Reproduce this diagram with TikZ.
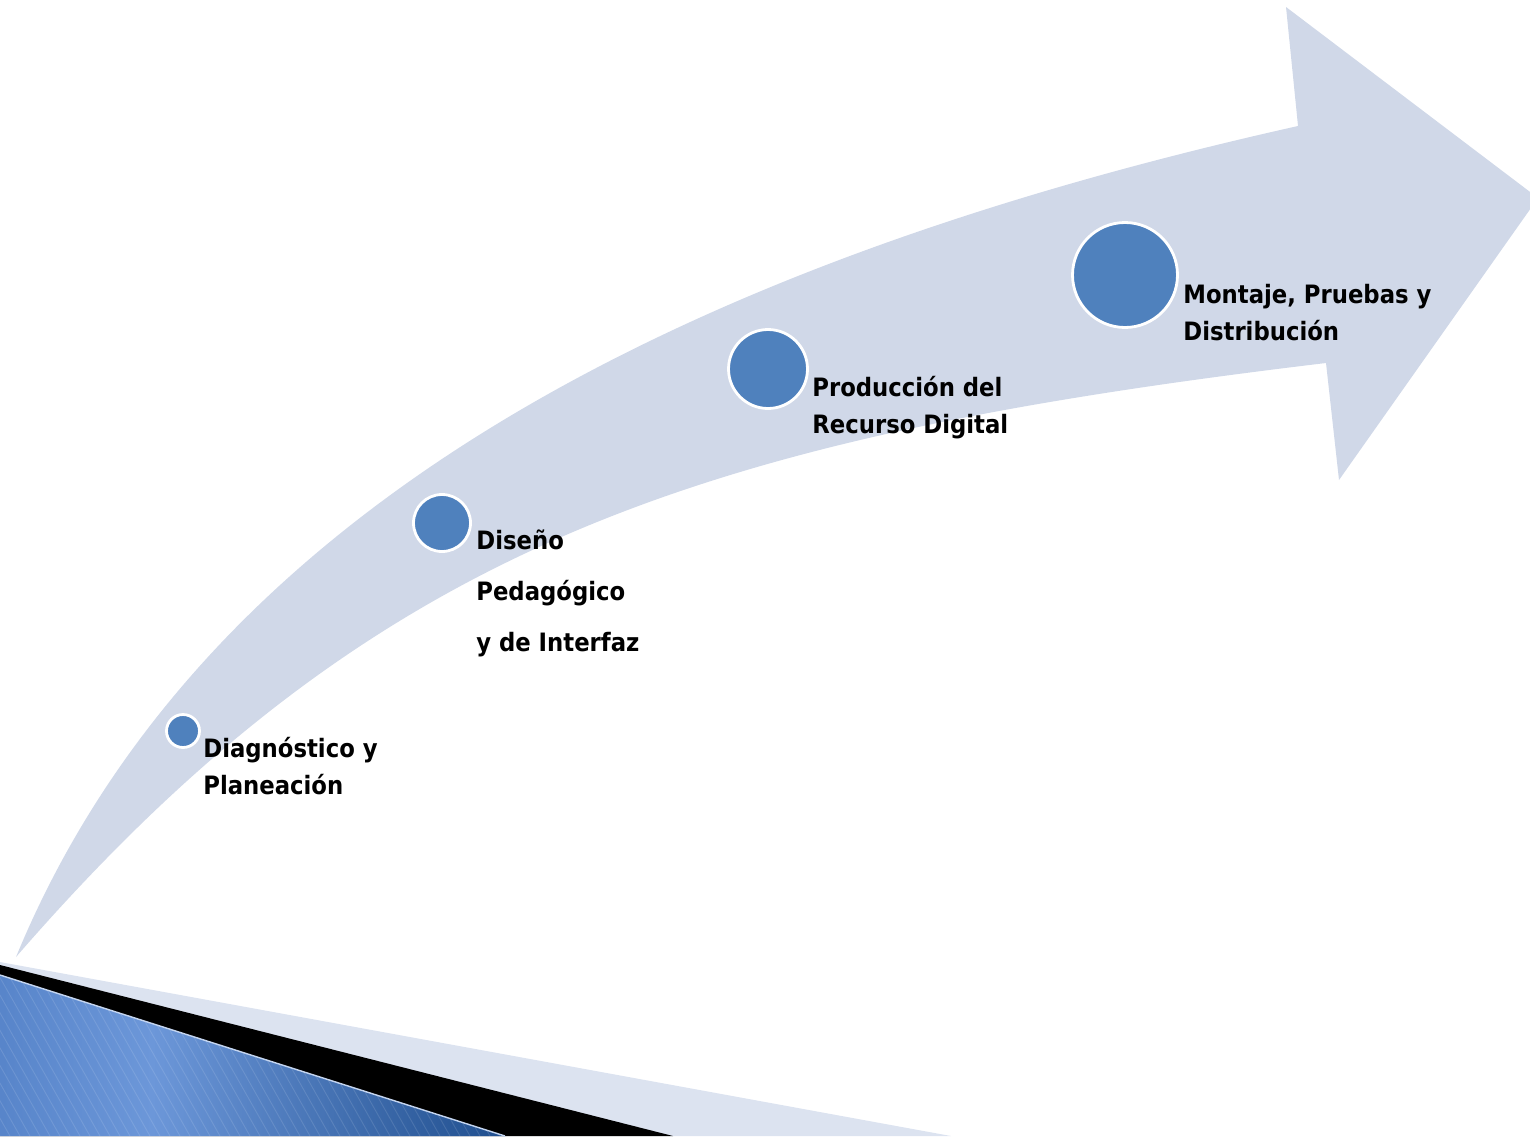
\documentclass[tikz,border=0pt]{standalone}
\usepackage{fontspec}
\newfontfamily\stagefont{DejaVu Sans Condensed Bold}
\definecolor{band}{HTML}{D0D8E8}
\definecolor{dotblue}{HTML}{4F81BD}
\definecolor{strip}{HTML}{DCE3F0}
\definecolor{blueA}{HTML}{3D6DB6}
\definecolor{blueB}{HTML}{6C97D9}
\definecolor{blueC}{HTML}{1F4E8E}
\tikzset{
  dot/.style={circle, fill=dotblue, draw=white, line width=1.6pt, inner sep=0pt},
  stage/.style={anchor=base west, align=left, inner sep=0pt,
    font=\stagefont\fontsize{14.4}{21}\selectfont},
}
\begin{document}
\begin{tikzpicture}[x=0.02cm, y=-0.02cm]
\useasboundingbox (0, 0) rectangle (1530, 1136);
\clip (0, 0) rectangle (1530, 1136);
% curved arrow
\fill[band] (16, 957) .. controls (200, 510) and (680, 264) .. (1298, 126)
      -- (1286, 7) -- (1538, 198) -- (1339, 480) -- (1326, 363)
      .. controls (700, 438) and (375, 543) .. (16, 957) -- cycle;
% bottom corner
\fill[strip] (0, 962) -- (951, 1136) -- (0, 1136) -- cycle;
\fill[black] (0, 965) -- (673, 1136) -- (0, 1136) -- cycle;
\begin{scope}
  \clip (0, 975) -- (505, 1136) -- (0, 1136) -- cycle;
  \shade[left color=blueA, right color=blueC, middle color=blueB]
    (-200, 960) rectangle (505, 1136);
  \foreach \i in {-12, ..., 52}
    \draw[white, opacity=0.12, line width=0.5pt] (\i*10, 960) -- (\i*10 + 100, 1136);
\end{scope}
\draw[white!60!blueB, line width=0.8pt] (0, 975) -- (505, 1136);
% stages
\path (183, 731) node[dot, minimum size=0.66cm] (p1) {}
      (442, 523) node[dot, minimum size=1.14cm] (p2) {}
      (768, 369) node[dot, minimum size=1.58cm] (p3) {}
      (1125, 275) node[dot, minimum size=2.1cm] (p4) {};
\path (203, 794) node[stage] (t1) {Diagnóstico y\\Planeación}
      (476, 651) node[stage, font=\stagefont\fontsize{14.4}{29}\selectfont] (t2) {Diseño\\Pedagógico\\y de Interfaz}
      (812, 433) node[stage] (t3) {Producción del\\Recurso Digital}
      (1183, 340) node[stage] (t4) {Montaje, Pruebas y\\Distribución};
\end{tikzpicture}
\end{document}
